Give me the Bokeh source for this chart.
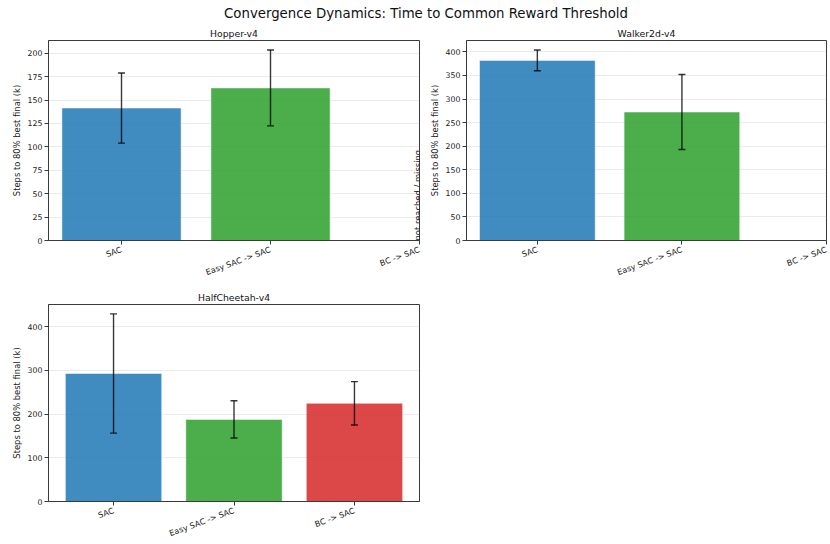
import math
from bokeh.plotting import figure
from bokeh.layouts import column, row
from bokeh.models import Div, ColumnDataSource, FixedTicker, SingleIntervalTicker, Label, Range1d
from bokeh.embed import file_html
from bokeh.resources import INLINE

NAN = float("nan")

# ---- data ----
methods = ["SAC", "Easy SAC -> SAC", "BC -> SAC"]
method_colors = ["#1f77b4", "#2ca02c", "#d62728"]
envs = ["Hopper-v4", "Walker2d-v4", "HalfCheetah-v4"]

hopper_mean = [141.5, 163.0, NAN]
hopper_std = [37.5, 40.5, NAN]
walker_mean = [382.0, 272.5, NAN]
walker_std = [22.0, 79.5, NAN]
cheetah_mean = [292.7, 187.7, 224.5]
cheetah_std = [136.3, 42.5, 49.5]

y_tick_step = {"Hopper-v4": 25, "Walker2d-v4": 50, "HalfCheetah-v4": 100}

suptitle = "Convergence Dynamics: Time to Common Reward Threshold"
ylabel = "Steps to 80% best final (k)"
missing_text = "not reached / missing"

FONT = "DejaVu Sans"
TEXT_COLOR = "#222222"
SPINE = "#3a3a3a"


def make_panel(env, means, stds, frame_w, frame_h, b_left, b_right, b_top, b_bottom, note_missing):
    idx = [i for i, m in enumerate(means) if not math.isnan(m)]
    xs = [float(i) for i in idx]
    tops = [means[i] for i in idx]
    errs = [stds[i] for i in idx]
    cols = [method_colors[i] for i in idx]
    hi = [m + s for m, s in zip(tops, errs)]
    lo = [m - s for m, s in zip(tops, errs)]

    lo_x = min(xs) - 0.4
    hi_x = max(xs) + 0.4
    marg = 0.05 * (hi_x - lo_x)
    x0 = lo_x - marg
    x1 = max(hi_x + marg, float(len(methods) - 1))
    ymax = 1.05 * max(hi)

    p = figure(frame_width=frame_w, frame_height=frame_h,
               x_range=Range1d(x0, x1), y_range=Range1d(0, ymax),
               output_backend="svg", toolbar_location=None, title=env,
               min_border_left=b_left, min_border_right=b_right,
               min_border_top=b_top, min_border_bottom=b_bottom)
    p.title.align = "center"
    p.title.text_font = FONT
    p.title.text_font_size = "9.3px"
    p.title.text_font_style = "normal"
    p.title.text_color = "#111111"
    p.title.standoff = 4
    p.title.offset = 0

    src = ColumnDataSource(dict(x=xs, top=tops, hi=hi, lo=lo, color=cols))
    p.vbar(x="x", top="top", width=0.8, bottom=0, source=src,
           fill_color="color", fill_alpha=0.85,
           line_color="white", line_alpha=0.5, line_width=1)
    p.segment(x0="x", y0="lo", x1="x", y1="hi", source=src,
              line_color="black", line_alpha=0.78, line_width=1.4)
    p.scatter(x="x", y="hi", source=src, marker="dash", size=7,
              line_color="black", line_alpha=0.78, line_width=1.4)
    p.scatter(x="x", y="lo", source=src, marker="dash", size=7,
              line_color="black", line_alpha=0.78, line_width=1.4)

    if note_missing:
        for i, m in enumerate(means):
            if math.isnan(m):
                p.add_layout(Label(x=i, y=0, text=missing_text, angle=math.pi / 2,
                                   text_align="left", text_baseline="bottom",
                                   x_offset=3,
                                   text_font=FONT, text_font_size="8.4px",
                                   text_color=TEXT_COLOR))

    p.xaxis.ticker = FixedTicker(ticks=list(range(len(methods))))
    p.xaxis.major_label_overrides = {i: m for i, m in enumerate(methods)}
    p.xaxis.major_label_orientation = math.radians(20)
    p.yaxis.ticker = SingleIntervalTicker(interval=y_tick_step[env])
    p.yaxis.axis_label = ylabel
    p.yaxis.axis_label_text_font = FONT
    p.yaxis.axis_label_text_font_size = "8.4px"
    p.yaxis.axis_label_text_font_style = "normal"
    p.yaxis.axis_label_text_color = TEXT_COLOR
    p.yaxis.axis_label_standoff = 3
    for ax in (p.xaxis, p.yaxis):
        ax.major_label_text_font = FONT
        ax.major_label_text_color = TEXT_COLOR
        ax.major_tick_out = 4
        ax.major_tick_in = 0
        ax.minor_tick_out = 0
        ax.minor_tick_in = 0
        ax.major_tick_line_color = SPINE
        ax.axis_line_color = SPINE
    p.xaxis.major_label_text_font_size = "8px"
    p.yaxis.major_label_text_font_size = "7.8px"
    p.xaxis.major_label_standoff = 5
    p.yaxis.major_label_standoff = 2
    p.xgrid.visible = False
    p.ygrid.grid_line_color = "#cccccc"
    p.ygrid.grid_line_alpha = 0.4
    p.outline_line_color = SPINE
    p.outline_line_alpha = 1.0
    p.background_fill_color = "white"
    p.border_fill_color = "white"
    return p


hop = make_panel(envs[0], hopper_mean, hopper_std, 371, 200, 48, 7, 18, 46, True)
wal = make_panel(envs[1], walker_mean, walker_std, 360, 200, 40, 4, 18, 46, False)
che = make_panel(envs[2], cheetah_mean, cheetah_std, 371, 197, 48, 7, 18, 42, True)

title_div = Div(text=f'<div style="width:808px; margin-left:22px; text-align:center; '
                     f'font-family:\'DejaVu Sans\'; font-size:13.3px; color:#111; '
                     f'padding-top:4px; line-height:20px;">{suptitle}</div>',
                width=830, height=22, margin=(0, 0, 0, 0))

layout = column(title_div, row(hop, wal), row(che), spacing=0)

open("out.html", "w").write(file_html(layout, INLINE))
